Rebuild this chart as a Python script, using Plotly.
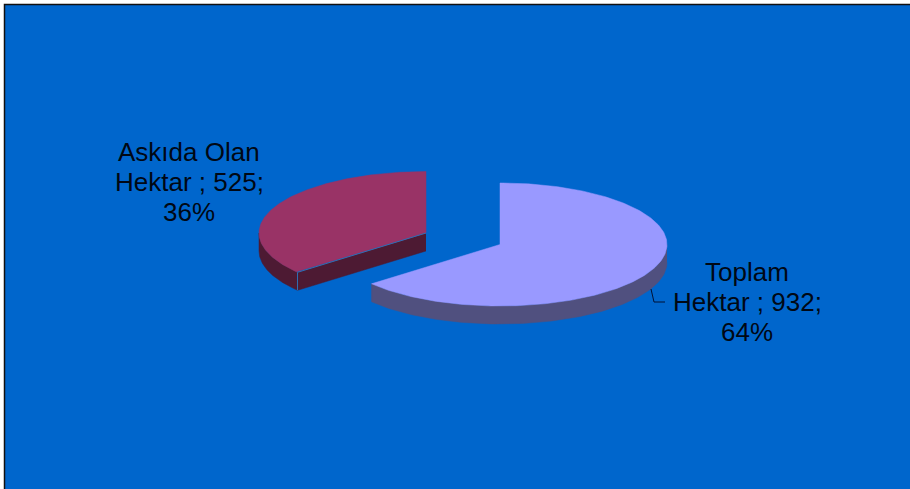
import numpy as np
import plotly.graph_objects as go

categories = ["Toplam Hektar", "Askıda Olan Hektar"]
values = [932, 525]

BG = "#0066CC"
TOP = ["#9999FF", "#993366"]
SIDE = ["#50507F", "#4D1A33"]

W, H = 910, 489
centres = [(500, 244.5), (426, 233)]
RX, RY, DEPTH = 167, 61.5, 18

shares = np.array(values) / sum(values)
edges = np.concatenate([[0], np.cumsum(shares)]) * 2 * np.pi


def rim(cx, cy, t):
    return cx + RX * np.sin(t), cy - RY * np.cos(t)


fig = go.Figure()


def poly(x, y, color):
    fig.add_trace(go.Scatter(x=x, y=y, mode="lines", fill="toself", fillcolor=color,
                             line=dict(width=0.5, color=color), hoverinfo="skip", showlegend=False))


for i, (cx, cy) in enumerate(centres):
    a, b = edges[i], edges[i + 1]
    lo, hi = max(a, np.pi / 2), min(b, 3 * np.pi / 2)
    if hi > lo:
        t = np.linspace(lo, hi, 120)
        x, y = rim(cx, cy, t)
        poly(np.concatenate([x, x[::-1]]), np.concatenate([y, (y + DEPTH)[::-1]]), SIDE[i])
    if i == 1:
        ex, ey = rim(cx, cy, a)
        poly([cx, ex, ex, cx], [cy, ey, ey + DEPTH, cy + DEPTH], SIDE[i])
    t = np.linspace(a, b, 240)
    x, y = rim(cx, cy, t)
    poly(np.concatenate([[cx], x, [cx]]), np.concatenate([[cy], y, [cy]]), TOP[i])
    if i == 1:
        ex, ey = rim(cx, cy, a)
        fig.add_trace(go.Scatter(x=[cx, ex, ex], y=[cy, ey, ey + DEPTH], mode="lines",
                                 line=dict(width=1, color="#2F6FB5"), hoverinfo="skip", showlegend=False))

fig.add_trace(go.Scatter(x=[651, 654, 665], y=[289, 302, 302], mode="lines",
                         line=dict(width=1, color="#001133"), hoverinfo="skip", showlegend=False))

label_pos = [(747, 302), (189, 182)]
LINE_GAP = 30
for i, (lx, ly) in enumerate(label_pos):
    head, tail = categories[i].rsplit(" ", 1)
    lines = [head, f"{tail} ; {values[i]};", f"{round(shares[i] * 100)}%"]
    for k, line in enumerate(lines):
        fig.add_annotation(x=lx, y=ly + (k - 1) * LINE_GAP, xref="x", yref="y", text=line, showarrow=False,
                           align="center", xanchor="center", yanchor="middle",
                           font=dict(family="Liberation Sans", size=26, color="#000814"))

fig.update_layout(
    width=W, height=H, autosize=False,
    margin=dict(l=0, r=0, t=0, b=0),
    paper_bgcolor="white", plot_bgcolor=BG,
    xaxis=dict(range=[0, W], visible=False, fixedrange=True),
    yaxis=dict(range=[H, 0], visible=False, fixedrange=True),
    shapes=[
        dict(type="rect", xref="paper", yref="paper", x0=0, x1=1, y0=0, y1=1, layer="below",
             fillcolor="white", line_width=0),
        dict(type="rect", xref="x", yref="y", x0=4.5, x1=W + 5, y0=4.5, y1=H + 5, layer="below",
             fillcolor=BG, line=dict(color="#111111", width=1.5)),
    ],
)
fig.write_html("out.html", config={"displayModeBar": False},
               post_script="document.body.style.margin='0';document.documentElement.style.overflow='hidden';")
